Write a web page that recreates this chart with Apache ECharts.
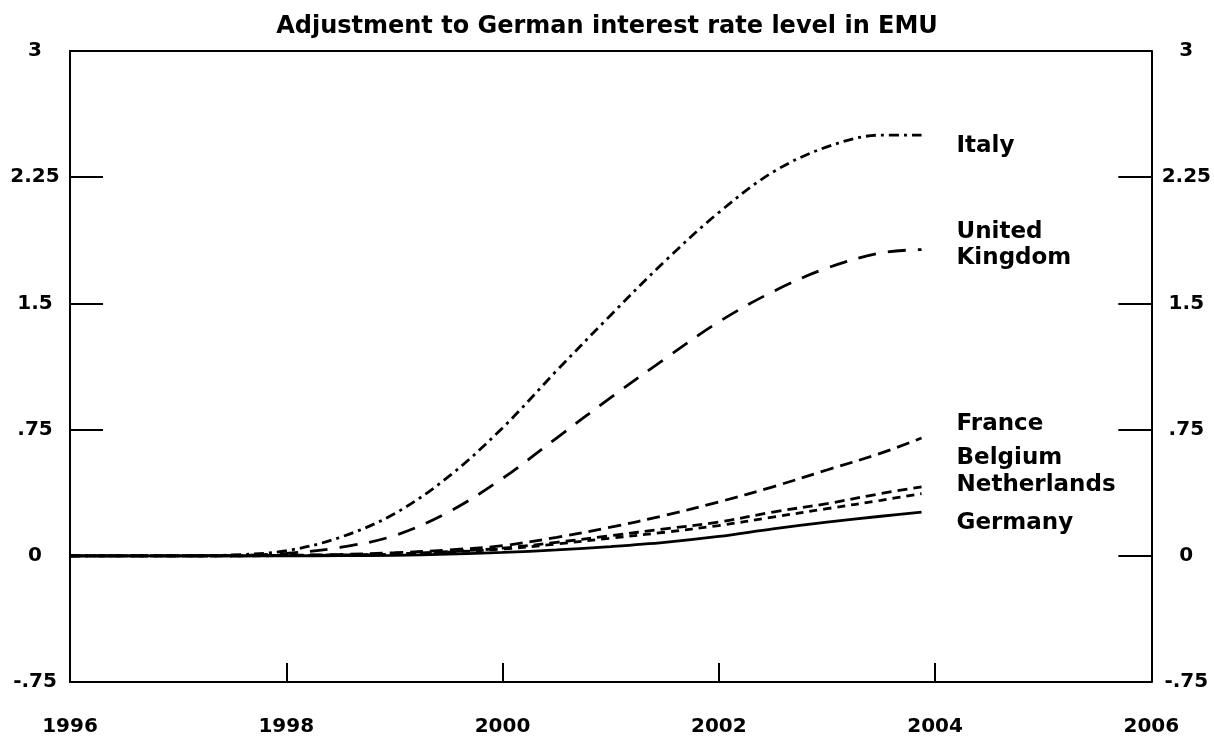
<!DOCTYPE html>
<html>
<head>
<meta charset="utf-8">
<script src="https://cdn.jsdelivr.net/npm/echarts@6/dist/echarts.min.js"></script>
<style>
    html, body { margin: 0; padding: 0; background: #fff; }
    #chart { width: 1214px; height: 748px; }
</style>
</head>
<body>
<div id="chart"></div>
<script>
    // time axis, in years (half-yearly points, last one late 2003)
    const years = [1996, 1996.5, 1997, 1997.5, 1998, 1998.5, 1999, 1999.5, 2000, 2000.5, 2001, 2001.5, 2002, 2002.5, 2003, 2003.5, 2003.875];

    const italy       = [0, 0, 0, 0.005, 0.03, 0.11, 0.25, 0.47, 0.76, 1.10, 1.43, 1.75, 2.04, 2.28, 2.43, 2.50, 2.50];
    const uk          = [0, 0, 0, 0.002, 0.015, 0.05, 0.12, 0.26, 0.46, 0.70, 0.94, 1.17, 1.39, 1.57, 1.71, 1.80, 1.82];
    const france      = [0, 0, 0, 0, 0.003, 0.008, 0.018, 0.035, 0.06, 0.11, 0.17, 0.24, 0.32, 0.41, 0.51, 0.61, 0.70];
    const belgium     = [0, 0, 0, 0, 0.002, 0.005, 0.01, 0.025, 0.045, 0.08, 0.12, 0.16, 0.20, 0.26, 0.31, 0.37, 0.41];
    const netherlands = [0, 0, 0, 0, 0.001, 0.004, 0.009, 0.022, 0.04, 0.07, 0.105, 0.14, 0.18, 0.23, 0.28, 0.33, 0.37];
    const germany     = [0, 0, 0, 0, 0, 0.001, 0.003, 0.01, 0.02, 0.035, 0.055, 0.08, 0.115, 0.16, 0.20, 0.235, 0.26];

    const yTicks = [-0.75, 0, 0.75, 1.5, 2.25, 3];
    const yTickLabels = ['-.75', '0', '.75', '1.5', '2.25', '3'];

    const font = 'DejaVu Sans';
    const black = '#000';

    const chart = echarts.init(document.getElementById('chart'));

    const axisLine = { show: true, onZero: false, lineStyle: { color: black, width: 2 } };
    const tickLabel = {
        color: black,
        fontFamily: font,
        fontWeight: 'bold',
        fontSize: 20
    };

    function makeSeries (name, values, dash, dy, text) {
        return {
            name: name,
            type: 'line',
            smooth: 0.35,
            showSymbol: false,
            silent: true,
            data: years.map((x, i) => [x, values[i]]),
            lineStyle: { color: black, width: 2.8, type: dash },
            endLabel: {
                show: true,
                formatter: text || name,
                distance: 35,
                offset: [0, dy],
                align: 'left',
                color: black,
                fontFamily: font,
                fontWeight: 'bold',
                fontSize: 23,
                lineHeight: 26
            }
        };
    }

    const option = {
        animation: false,
        backgroundColor: '#fff',
        title: {
            text: 'Adjustment to German interest rate level in EMU',
            left: 'center',
            top: 10,
            textStyle: {
                color: black,
                fontFamily: font,
                fontWeight: 'bold',
                fontSize: 24
            }
        },
        grid: {
            left: 70,
            right: 62,
            top: 51,
            bottom: 66
        },
        xAxis: [
            {
                type: 'value',
                position: 'bottom',
                min: 1996,
                max: 2006,
                interval: 2,
                axisLine: axisLine,
                axisTick: { show: true, inside: true, length: 19, lineStyle: { color: black, width: 2 } },
                axisLabel: Object.assign({ margin: 35, formatter: v => String(v) }, tickLabel),
                splitLine: { show: false }
            },
            {
                type: 'value',
                position: 'top',
                min: 1996,
                max: 2006,
                interval: 2,
                axisLine: axisLine,
                axisTick: { show: false },
                axisLabel: { show: false },
                splitLine: { show: false }
            }
        ],
        yAxis: [
            {
                type: 'value',
                position: 'left',
                min: -0.75,
                max: 3,
                interval: 0.75,
                axisLine: axisLine,
                axisTick: { show: true, inside: true, length: 33, lineStyle: { color: black, width: 2 } },
                axisLabel: Object.assign({ margin: 35, align: 'center', formatter: v => yTickLabels[yTicks.indexOf(v)] }, tickLabel),
                splitLine: { show: false }
            },
            {
                type: 'value',
                position: 'right',
                min: -0.75,
                max: 3,
                interval: 0.75,
                axisLine: axisLine,
                axisTick: { show: true, inside: true, length: 33, lineStyle: { color: black, width: 2 } },
                axisLabel: Object.assign({ margin: 35, align: 'center', formatter: v => yTickLabels[yTicks.indexOf(v)] }, tickLabel),
                splitLine: { show: false }
            }
        ],
        series: [
            makeSeries('Germany', germany, 'solid', 11),
            makeSeries('Netherlands', netherlands, [8, 6], -9),
            makeSeries('Belgium', belgium, [10, 6], -29),
            makeSeries('France', france, [13, 7], -14),
            makeSeries('United Kingdom', uk, [18, 12], -5, 'United\nKingdom'),
            makeSeries('Italy', italy, [10, 5, 3, 5], 11)
        ]
    };

    chart.setOption(option);
</script>
</body>
</html>
